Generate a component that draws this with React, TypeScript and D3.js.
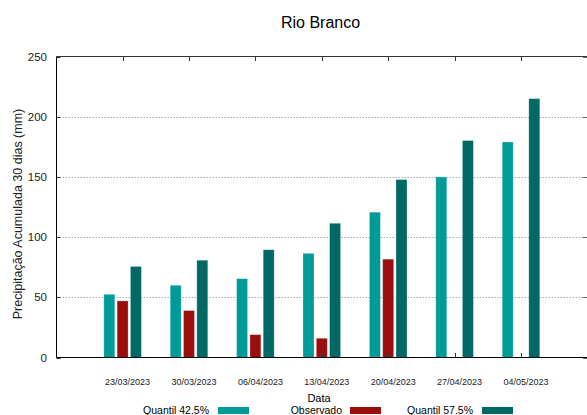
import React from "react";
import * as d3 from "d3";

const dates = ["23/03/2023", "30/03/2023", "06/04/2023", "13/04/2023", "20/04/2023", "27/04/2023", "04/05/2023"];
const quantil425 = [52.5, 60, 65.5, 86.5, 120.7, 150, 179];
const observado: (number | null)[] = [47, 39, 19, 16, 81.7, null, null];
const quantil575 = [75.6, 80.8, 89.5, 111.5, 147.8, 180.2, 215];
const yTicks = [0, 50, 100, 150, 200, 250];
const seriesNames = ["Quantil 42.5%", "Observado", "Quantil 57.5%"];
const colors = ["#009a98", "#9a0e0e", "#006865"];

const W = 587;
const H = 415;
const left = 56.5;
const right = 587;
const top = 56.5;
const bottom = 357.5;

export default function App() {
  const x = d3.scaleBand<string>().domain(dates).range([89.4, 554.2]).paddingInner(0).paddingOuter(0);
  const xSub = d3.scalePoint<string>().domain(seriesNames).range([-13.3, 13.3]);
  const y = d3.scaleLinear().domain([0, 250]).range([bottom, top]);
  const barW = 11;
  const data = [quantil425, observado, quantil575];
  const font = "'Liberation Sans', Arial, sans-serif";
  const cx = (d: string) => (x(d) as number) + x.bandwidth() / 2;

  const legendItems = [
    { label: seriesNames[0], textEnd: 209, sw: 218 },
    { label: seriesNames[1], textEnd: 342, sw: 350 },
    { label: seriesNames[2], textEnd: 473, sw: 482 },
  ];

  return (
    <svg width={W} height={H} style={{ position: "absolute", left: 0, top: 0, background: "#fff" }} fontFamily={font}>
      <rect x={0} y={0} width={W} height={H} fill="#fff" />
      <text x={320.5} y={28} textAnchor="middle" fontSize={16} fill="#000">Rio Branco</text>
      {/* grid */}
      {yTicks.filter((t) => t > 0 && t < 250).map((t) => (
        <line key={"g" + t} x1={left} x2={right} y1={Math.round(y(t)) + 0.5} y2={Math.round(y(t)) + 0.5}
          stroke="#a8a8a8" strokeWidth={1} strokeDasharray="1.5,1.5" />
      ))}
      {/* bars */}
      {data.map((vals, si) =>
        dates.map((d, i) => {
          const v = vals[i];
          if (v == null) return null;
          const bx = cx(d) + (xSub(seriesNames[si]) as number) - barW / 2;
          return (
            <rect key={si + "-" + i} x={bx} y={y(v)} width={barW} height={y(0) - y(v)}
              fill={colors[si]} stroke="#ffffff" strokeOpacity={0.35} strokeWidth={0.8} />
          );
        })
      )}
      {/* frame */}
      <line x1={left} x2={left} y1={top} y2={bottom} stroke="#000" strokeWidth={1} />
      <line x1={left} x2={right} y1={bottom} y2={bottom} stroke="#000" strokeWidth={1.2} />
      <line x1={left} x2={right} y1={top} y2={top} stroke="#333" strokeWidth={1} />
      {/* x ticks */}
      {dates.map((d) => (
        <g key={"xt" + d}>
          <line x1={Math.round(cx(d)) + 0.5} x2={Math.round(cx(d)) + 0.5} y1={top} y2={top + 4.5} stroke="#333" />
          <line x1={Math.round(cx(d)) + 0.5} x2={Math.round(cx(d)) + 0.5} y1={bottom} y2={bottom - 4.5} stroke="#333" />
          <text x={cx(d) + 5} y={385} textAnchor="middle" fontSize={9} fill="#222">{d}</text>
        </g>
      ))}
      {/* y ticks */}
      {yTicks.map((t) => (
        <g key={"yt" + t}>
          <line x1={left} x2={left + 4} y1={Math.round(y(t)) + 0.5} y2={Math.round(y(t)) + 0.5} stroke="#333" />
          <line x1={right - 4} x2={right} y1={Math.round(y(t)) + 0.5} y2={Math.round(y(t)) + 0.5} stroke="#666" />
          <text x={47} y={y(t) + 4} textAnchor="end" fontSize={11.5} fill="#222">{t}</text>
        </g>
      ))}
      <text transform={`translate(21.5,214) rotate(-90)`} textAnchor="middle" fontSize={12.5} fill="#222">
        Precipitação Acumulada 30 dias (mm)
      </text>
      <text x={319} y={402} textAnchor="middle" fontSize={11} fill="#000">Data</text>
      {legendItems.map((it, i) => (
        <g key={"lg" + i}>
          <text x={it.textEnd} y={414} textAnchor="end" fontSize={10.5} fill="#000">{it.label}</text>
          <rect x={it.sw} y={407} width={31} height={7} fill={colors[i]} />
        </g>
      ))}
    </svg>
  );
}
